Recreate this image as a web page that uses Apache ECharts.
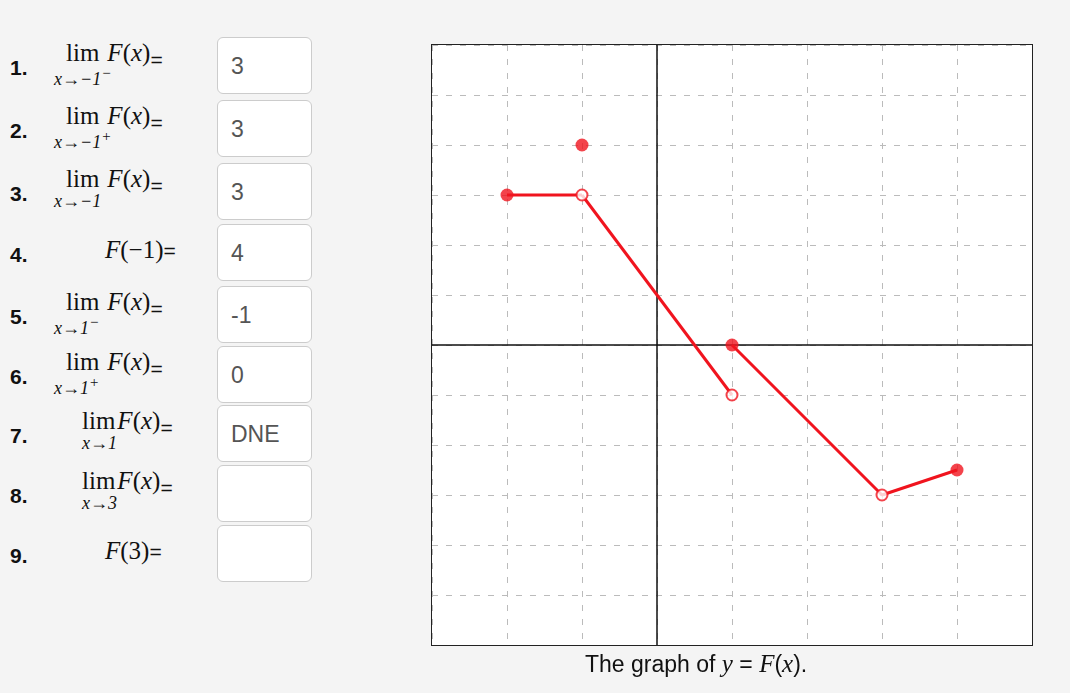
<!DOCTYPE html>
<html><head><meta charset="utf-8">
<script src="https://cdn.jsdelivr.net/npm/echarts@6/dist/echarts.min.js"></script>
<style>
body{margin:0;background:#f4f4f4;width:1070px;height:693px;overflow:hidden;font-family:"Liberation Sans",Arial,sans-serif;position:relative}
.num{position:absolute;left:10px;font-weight:bold;font-size:21px;color:#111}
.expr{position:absolute;font-family:"Liberation Serif",serif;color:#111;white-space:nowrap}
.eq{font-family:'Liberation Sans';font-size:21px;position:relative;top:6px}
.box{position:absolute;left:217px;width:95px;height:57px;background:#fff;border:1px solid #ccc;border-radius:6px;box-sizing:border-box;font-size:23px;color:#555;padding-left:13px;line-height:57px}
#cap{position:absolute;left:585px;top:650px;font-size:23px;color:#111}
#cap i{font-family:"Liberation Serif",serif;font-size:25px}
#frame{position:absolute;left:431px;top:44px;width:602px;height:602px;border:1.5px solid #222;box-sizing:border-box;pointer-events:none}
</style></head><body>
<div id="form"></div>
<div id="chart" style="position:absolute;left:420px;top:35px;width:625px;height:620px"></div>
<div id="frame"></div>
<div id="cap">The graph of <i>y</i> = <i>F</i>(<i>x</i>).</div>
<script>
const questions=[
 {lim:true,sub:"x→−1<sup>−</sup>",ans:"3"},
 {lim:true,sub:"x→−1<sup>+</sup>",ans:"3"},
 {lim:true,sub:"x→−1",ans:"3"},
 {lim:false,txt:"F(−1)=",ans:"4"},
 {lim:true,sub:"x→1<sup>−</sup>",ans:"-1"},
 {lim:true,sub:"x→1<sup>+</sup>",ans:"0"},
 {lim:true,sub:"x→1",ans:"DNE",tight:true},
 {lim:true,sub:"x→3",ans:"",tight:true},
 {lim:false,txt:"F(3)=",ans:""}
];
const rowTops=[37,100,163,224,286,346,405,465,525];
let html="";
questions.forEach((q,i)=>{
  const t=rowTops[i];
  html+=`<div class="num" style="top:${t+19}px">${i+1}.</div>`;
  if(q.lim){
    const lx=q.tight?82:66;
    html+=`<div class="expr" style="left:${lx}px;top:${t+2}px;font-size:25px">lim<span style="margin-left:${q.tight?2:8}px"><i>F</i>(<i>x</i>)</span><span class="eq">=</span></div>`;
    html+=`<div class="expr" style="left:${q.tight?82:54}px;top:${t+28}px;font-size:18px;font-style:italic">${q.sub}</div>`;
  } else {
    html+=`<div class="expr" style="left:105px;top:${t+12}px;font-size:25px"><i>F</i>${q.txt.slice(1,-1)}<span class="eq" style="top:0">=</span></div>`;
  }
  html+=`<div class="box" style="top:${t}px">${q.ans}</div>`;
});
document.getElementById("form").innerHTML=html;

const seg1=[[-2,3],[-1,3]];
const seg2=[[-1,3],[1,-1]];
const seg3=[[1,0],[3,-3],[4,-2.5]];
const filledPts=[[-2,3],[-1,4],[1,0],[4,-2.5]];
const openPts=[[-1,3],[1,-1],[3,-3]];
const axisTexts=[[0,6,"6"],[0,-6,"-6"],[-3,0,"-3"],[5,0,"5"],[0,1,"1.0"],[1,0,"1.0"]];
const offs=[[6,14],[-11,-12],[13,15],[-8,15],[0,2],[5,2]];
const red="#f0141e";
const chart=echarts.init(document.getElementById("chart"));
const lineS=d=>({type:"line",data:d,symbol:"none",lineStyle:{color:red,width:3},z:3,silent:true});
chart.setOption({
 animation:false,
 grid:{left:12,top:10,width:600,height:600,show:true,backgroundColor:"#fff",borderWidth:0},
 xAxis:{type:"value",min:-3,max:5,interval:1,axisLine:{show:false},axisTick:{show:false},axisLabel:{show:false},
   splitLine:{lineStyle:{color:"#bbb",type:[6,8],width:1}}},
 yAxis:{type:"value",min:-6,max:6,interval:1,axisLine:{show:false},axisTick:{show:false},axisLabel:{show:false},
   splitLine:{lineStyle:{color:"#bbb",type:[6,8],width:1}}},
 series:[
  {type:"line",data:[[-3,0],[5,0]],symbol:"none",lineStyle:{color:"#111",width:1.5},z:2},
  {type:"line",data:[[0,-6],[0,6]],symbol:"none",lineStyle:{color:"#111",width:1.5},z:2},
  lineS(seg1),lineS(seg2),lineS(seg3),
  {type:"scatter",data:filledPts,symbolSize:13,itemStyle:{color:red},z:5},
  {type:"scatter",data:openPts,symbolSize:11,itemStyle:{color:"#fff",borderColor:red,borderWidth:2},z:5},
  {type:"scatter",symbolSize:1,itemStyle:{opacity:0},z:6,
   data:axisTexts.map((a,i)=>({value:[a[0],a[1]],name:a[2],
     label:{show:true,formatter:p=>p.name,position:"inside",offset:offs[i],align:"center",verticalAlign:"middle",
       fontFamily:"DejaVu Sans Mono",fontWeight:"bold",fontSize:15,color:"#111"}}))}
 ]
});
</script></body></html>
